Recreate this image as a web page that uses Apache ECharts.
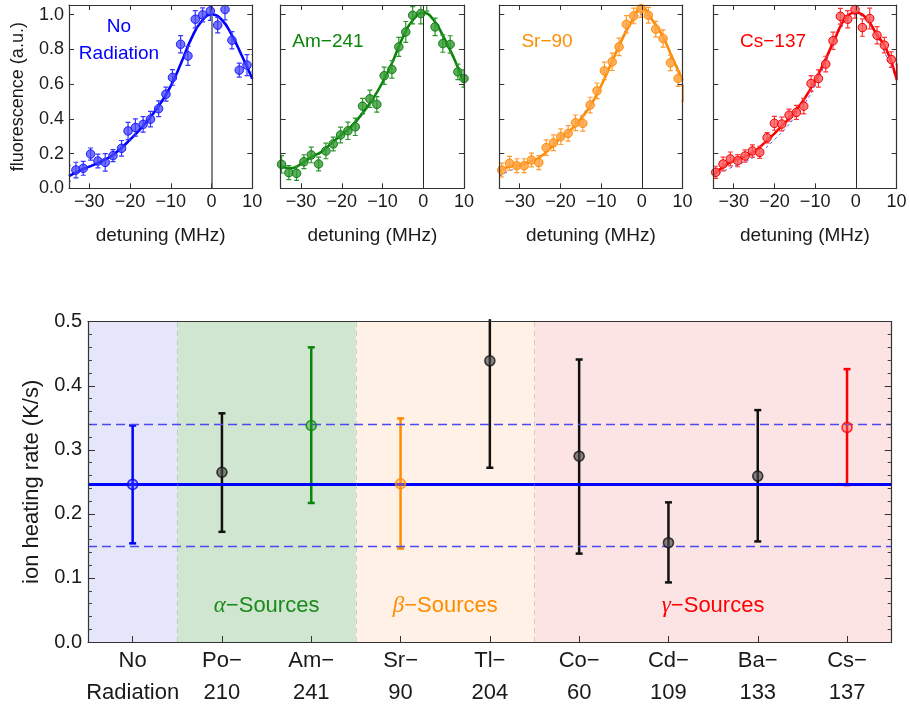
<!DOCTYPE html>
<html><head><meta charset="utf-8">
<script src="https://cdn.jsdelivr.net/npm/echarts@6/dist/echarts.min.js"></script>
<style>html,body{margin:0;padding:0;background:#fff}#c{width:910px;height:709px}</style>
</head><body><div id="c"></div><script>
// ---------- top panels: fluorescence vs detuning ----------
const detTicks = [-30, -20, -10, 0, 10];
const fluorTicks = [0, 0.2, 0.4, 0.6, 0.8, 1.0];
const panelNames = ['No\nRadiation', 'Am\u2212241', 'Sr\u221290', 'Cs\u2212137'];

const noRadX = [-35.2,-33.3,-31.5,-29.7,-27.9,-26.1,-24.2,-22.1,-20.5,-18.7,-16.8,-15.0,-13.0,-11.2,-9.6,-7.6,-5.8,-4.0,-2.2,-0.3,1.5,3.3,5.0,6.8,8.7,10.4];
const noRadY = [0.086,0.105,0.115,0.197,0.157,0.149,0.188,0.23,0.33,0.35,0.368,0.398,0.458,0.542,0.638,0.829,0.762,0.973,0.998,1.021,0.939,1.029,0.852,0.68,0.709,0.72];
const noRadErr = [0.045,0.045,0.04,0.035,0.04,0.05,0.035,0.045,0.05,0.05,0.045,0.045,0.045,0.04,0.045,0.05,0.055,0.05,0.04,0.055,0.045,0.06,0.05,0.04,0.06,0.05];

const amX = [-34.8,-33.0,-31.1,-29.3,-27.5,-25.7,-23.9,-22.1,-20.3,-18.5,-16.7,-14.9,-13.1,-11.4,-9.6,-7.7,-6.0,-4.3,-2.6,-0.6,0.85,2.9,4.8,6.6,8.5,10.0];
const amY = [0.138,0.09,0.086,0.153,0.192,0.14,0.215,0.255,0.307,0.331,0.354,0.473,0.515,0.483,0.648,0.684,0.814,0.900,0.996,1.006,1.08,0.929,0.833,0.828,0.670,0.632];
const amErr = [0.05,0.04,0.04,0.04,0.045,0.04,0.045,0.04,0.045,0.05,0.05,0.045,0.05,0.045,0.05,0.05,0.055,0.06,0.05,0.06,0.06,0.05,0.05,0.05,0.045,0.05];

const srX = [-34.4,-32.5,-30.7,-28.9,-27.1,-25.3,-23.5,-21.7,-19.9,-18.1,-16.3,-14.5,-12.7,-11.0,-9.2,-7.3,-5.6,-3.8,-2.0,-0.2,1.6,3.4,5.2,7.0,8.9,10.3];
const srY = [0.105,0.144,0.130,0.130,0.163,0.148,0.234,0.262,0.297,0.316,0.377,0.374,0.479,0.561,0.676,0.728,0.814,0.944,0.992,1.034,0.996,0.916,0.862,0.722,0.632,0.546];
const srErr = [0.04,0.04,0.04,0.04,0.04,0.04,0.045,0.045,0.045,0.045,0.045,0.045,0.045,0.045,0.05,0.05,0.05,0.05,0.045,0.05,0.045,0.045,0.05,0.045,0.045,0.045];

const csX = [-34.4,-32.6,-30.8,-29.0,-27.2,-25.4,-23.6,-21.8,-20.0,-18.2,-16.4,-14.6,-12.8,-11.0,-9.2,-7.4,-5.6,-3.8,-2.0,-0.2,1.6,3.4,5.2,7.0,8.7,10.3];
const csY = [0.092,0.14,0.169,0.159,0.186,0.215,0.207,0.291,0.374,0.370,0.421,0.437,0.473,0.603,0.632,0.715,0.849,0.990,0.973,1.029,0.925,0.977,0.881,0.824,0.741,0.67];
const csErr = [0.035,0.04,0.04,0.035,0.035,0.035,0.035,0.03,0.04,0.04,0.035,0.04,0.045,0.045,0.05,0.045,0.05,0.045,0.05,0.05,0.05,0.06,0.05,0.045,0.045,0.045];

const fitX = [-35,-32.5,-30,-27.5,-25,-22.5,-20,-17.5,-15,-12.5,-10,-7.5,-5,-2.5,0,2.5,5,7.5,10];
const fitNoRad = [0.07,0.10,0.125,0.15,0.18,0.225,0.28,0.34,0.41,0.49,0.59,0.72,0.86,0.96,1.0,0.97,0.88,0.76,0.63];
const fitAm = [0.125,0.115,0.14,0.18,0.21,0.26,0.31,0.36,0.43,0.51,0.61,0.73,0.87,0.97,1.01,0.97,0.87,0.75,0.61];
const fitSr = [0.10,0.125,0.134,0.153,0.18,0.23,0.29,0.335,0.40,0.48,0.59,0.72,0.85,0.96,1.04,0.97,0.88,0.75,0.62];
const fitCs = [0.077,0.125,0.16,0.18,0.21,0.26,0.315,0.375,0.44,0.52,0.62,0.74,0.87,0.98,1.01,0.98,0.89,0.80,0.63];

// ---------- bottom panel: heating rate per source ----------
const sources = ['No\nRadiation','Po\u2212\n210','Am\u2212\n241','Sr\u2212\n90','Tl\u2212\n204','Co\u2212\n60','Cd\u2212\n109','Ba\u2212\n133','Cs\u2212\n137'];
const rate     = [0.246,0.265,0.338,0.247,0.439,0.290,0.155,0.259,0.335];
const rateLow  = [0.154,0.172,0.217,0.146,0.272,0.138,0.093,0.157,0.245];
const rateHigh = [0.338,0.357,0.460,0.349,0.504,0.441,0.218,0.362,0.426];
const meanRate = 0.246, meanLow = 0.154, meanHigh = 0.338;
const groupFrom = [-0.5, 0.5, 2.5, 4.5];
const groupTo   = [0.5, 2.5, 4.5, 8.5];
const groupGreek = ['', '\u03b1', '\u03b2', '\u03b3'];

// ---------- styles ----------
const FONT = '"Liberation Sans", Arial, sans-serif';
const panelColors = [
  {line:'#0000ff', fill:'rgba(70,70,255,0.75)', border:'#1a1aff', err:'#3535ff'},
  {line:'#0a850a', fill:'rgba(50,155,50,0.8)', border:'#137a13', err:'#2a962a'},
  {line:'#ff8c00', fill:'rgba(255,165,70,0.85)', border:'#ff8c00', err:'#ff9a30'},
  {line:'#ff0000', fill:'rgba(255,90,90,0.8)', border:'#ee0000', err:'#ff3535'}
];
const rateColors = ['#0000ff','#111111','#0a850a','#ff8c00','#111111','#111111','#111111','#111111','#ff0000'];
const rateFills = ['rgba(80,80,255,0.45)','rgba(70,70,70,0.8)','rgba(40,150,40,0.5)','rgba(255,160,60,0.6)','rgba(70,70,70,0.8)','rgba(70,70,70,0.8)','rgba(70,70,70,0.8)','rgba(70,70,70,0.8)','rgba(255,90,90,0.5)'];
const bandColors = ['#e6e6fb','#d0e6d0','#fff1e5','#fde4e4'];
const groupTextColors = ['#000','#1a8a1a','#ff8c00','#ff0000'];

const panelData = [
  {x:noRadX, y:noRadY, e:noRadErr, fit:fitNoRad},
  {x:amX, y:amY, e:amErr, fit:fitAm},
  {x:srX, y:srY, e:srErr, fit:fitSr},
  {x:csX, y:csY, e:csErr, fit:fitCs}
];
const gridLefts = [69, 280.7, 499.3, 713.3];
const titlePos = [[119,40.5],[328,42],[547,42],[773,42]];

function minusFmt(v){ return v < 0 ? '\u2212' + Math.abs(v) : String(v); }

function errRender(colorFn, lw, cap, yMaxClip) {
  return function(params, api) {
    const x = api.value(0), lo = api.value(2), hi = api.value(3);
    const pLo = api.coord([x, lo]), pHi = api.coord([x, hi]);
    const c = colorFn(params.dataIndex);
    const st = {stroke: c, lineWidth: lw};
    const ch = [
      {type:'line', shape:{x1:pLo[0], y1:pLo[1], x2:pHi[0], y2:pHi[1]}, style:st},
      {type:'line', shape:{x1:pLo[0]-cap, y1:pLo[1], x2:pLo[0]+cap, y2:pLo[1]}, style:st}
    ];
    if (yMaxClip === undefined || hi <= yMaxClip) {
      ch.push({type:'line', shape:{x1:pHi[0]-cap, y1:pHi[1], x2:pHi[0]+cap, y2:pHi[1]}, style:st});
    }
    return {type:'group', children: ch};
  };
}

const grids = [], xAxes = [], yAxes = [], series = [], graphics = [];
for (let i = 0; i < 4; i++) {
  grids.push({left: gridLefts[i], top: 5, width: 183.3, height: 183.3});
}
grids.push({left: 88, top: 321.7, width: 803.7, height: 320.6});

const axisLineStyle = {color:'#333', width:1.2};
// xAxis 0-3: top panels bottom axes
for (let i = 0; i < 4; i++) {
  xAxes.push({
    gridIndex: i, type: 'value', min: -35, max: 10, position: 'bottom', z: 10,
    axisLine: {show: true, onZero: false, lineStyle: axisLineStyle},
    axisTick: {show: true, inside: true, length: 5, customValues: detTicks, lineStyle:{color:'#333'}},
    axisLabel: {show: true, customValues: detTicks, formatter: minusFmt, fontSize: 18, fontFamily: FONT, color: '#1a1a1a', margin: 5},
    splitLine: {show: false},
    name: 'detuning (MHz)', nameLocation: 'middle', nameGap: 38,
    nameTextStyle: {fontSize: 19, fontFamily: FONT, color: '#1a1a1a'}
  });
}
// xAxis 4: bottom category
xAxes.push({
  gridIndex: 4, type: 'category', data: sources, position: 'bottom', z: 10,
  axisLine: {show: true, onZero: false, lineStyle: axisLineStyle},
  axisTick: {show: true, inside: true, alignWithLabel: true, length: 6, lineStyle:{color:'#333'}},
  axisLabel: {fontSize: 22, fontFamily: FONT, color: '#1a1a1a', lineHeight: 32, margin: 3, interval: 0},
  splitLine: {show: false}
});
// xAxis 5: bottom hidden value axis (top frame)
xAxes.push({
  gridIndex: 4, type: 'value', min: -0.5, max: 8.5, position: 'top', z: 10,
  axisLine: {show: true, onZero: false, lineStyle: axisLineStyle},
  axisTick: {show: false}, axisLabel: {show: false}, splitLine: {show: false}
});
// xAxis 6-9: top frames of top panels
for (let i = 0; i < 4; i++) {
  xAxes.push({
    gridIndex: i, type: 'value', min: -35, max: 10, position: 'top', z: 10,
    axisLine: {show: true, onZero: false, lineStyle: axisLineStyle},
    axisTick: {show: true, inside: true, length: 5, customValues: detTicks, lineStyle:{color:'#333'}},
    axisLabel: {show: false}, splitLine: {show: false}
  });
}
// yAxis 0-3 left, 4-7 right of top panels
for (let i = 0; i < 4; i++) {
  yAxes.push({
    gridIndex: i, type: 'value', min: 0, max: 1.055, position: 'left', z: 10,
    axisLine: {show: true, onZero: false, lineStyle: axisLineStyle},
    axisTick: {show: true, inside: true, length: 5, customValues: fluorTicks, lineStyle:{color:'#333'}},
    axisLabel: {show: i === 0, customValues: fluorTicks, formatter: v => v.toFixed(1), fontSize: 18, fontFamily: FONT, color: '#1a1a1a', margin: 5},
    splitLine: {show: false},
    name: i === 0 ? 'fluorescence (a.u.)' : '', nameLocation: 'middle', nameGap: 42, nameRotate: 90,
    nameTextStyle: {fontSize: 18, fontFamily: FONT, color: '#1a1a1a'}
  });
}
for (let i = 0; i < 4; i++) {
  yAxes.push({
    gridIndex: i, type: 'value', min: 0, max: 1.055, position: 'right', z: 10,
    axisLine: {show: true, onZero: false, lineStyle: axisLineStyle},
    axisTick: {show: true, inside: true, length: 5, customValues: fluorTicks, lineStyle:{color:'#333'}},
    axisLabel: {show: false}, splitLine: {show: false}
  });
}
// yAxis 8 left, 9 right bottom chart
yAxes.push({
  gridIndex: 4, type: 'value', min: 0, max: 0.5, interval: 0.1, position: 'left', z: 10,
  axisLine: {show: true, onZero: false, lineStyle: axisLineStyle},
  axisTick: {show: true, inside: true, length: 7, lineStyle:{color:'#333'}},
  minorTick: {show: true, splitNumber: 5, length: 4, lineStyle:{color:'#444'}},
  axisLabel: {formatter: v => v.toFixed(1), fontSize: 20, fontFamily: FONT, color: '#1a1a1a', margin: 6},
  splitLine: {show: false},
  name: 'ion heating rate (K/s)', nameLocation: 'middle', nameGap: 45, nameRotate: 90,
  nameTextStyle: {fontSize: 22, fontFamily: FONT, color: '#1a1a1a'}
});
yAxes.push({
  gridIndex: 4, type: 'value', min: 0, max: 0.5, interval: 0.1, position: 'right', z: 10,
  axisLine: {show: true, onZero: false, lineStyle: axisLineStyle},
  axisTick: {show: true, inside: true, length: 7, lineStyle:{color:'#333'}},
  minorTick: {show: true, splitNumber: 5, length: 4, lineStyle:{color:'#444'}},
  axisLabel: {show: false}, splitLine: {show: false}
});

// ---------- top panel series ----------
for (let i = 0; i < 4; i++) {
  const d = panelData[i], c = panelColors[i];
  if (i >= 2) {
    series.push({
      type: 'line', xAxisIndex: i, yAxisIndex: i, smooth: true, symbol: 'none', z: 2,
      data: fitX.map((x, k) => [x, fitNoRad[k]]),
      lineStyle: {color: '#2020ff', width: 1, type: [3, 3], opacity: 0.8}, silent: true
    });
  }
  series.push({
    type: 'line', xAxisIndex: i, yAxisIndex: i, smooth: true, symbol: 'none', z: 3,
    data: fitX.map((x, k) => [x, d.fit[k]]),
    lineStyle: {color: c.line, width: 2.6}, silent: true,
    markLine: {
      symbol: 'none', silent: true, label: {show: false},
      lineStyle: {color: i === 0 ? '#777' : '#222', width: i === 0 ? 1.8 : 1, type: 'solid'},
      data: [{xAxis: 0}]
    }
  });
  series.push({
    type: 'custom', xAxisIndex: i, yAxisIndex: i, z: 4, clip: true, silent: true,
    data: d.x.map((x, k) => [x, d.y[k], d.y[k] - d.e[k], d.y[k] + d.e[k]]),
    renderItem: errRender(() => c.err, 1.2, 2.5)
  });
  series.push({
    type: 'scatter', xAxisIndex: i, yAxisIndex: i, z: 5, clip: true, silent: true,
    data: d.x.map((x, k) => [x, d.y[k]]),
    symbol: 'circle', symbolSize: 8.5,
    itemStyle: {color: c.fill, borderColor: c.border, borderWidth: 1, opacity: 1}
  });
  graphics.push({
    type: 'text', x: titlePos[i][0], y: titlePos[i][1], z: 20,
    style: {text: panelNames[i], fill: c.line, font: '19px ' + FONT, align: 'center', verticalAlign: 'middle', lineHeight: 27}
  });
}

// ---------- bottom chart series ----------
series.push({
  type: 'line', xAxisIndex: 5, yAxisIndex: 8, z: 1, silent: true,
  data: [[-5, -1]], symbol: 'none', lineStyle: {opacity: 0},
  markArea: {
    silent: true,
    data: groupFrom.map((f, g) => [
      {xAxis: f, itemStyle: {color: bandColors[g]},
       label: {show: g > 0, position: 'insideBottom', distance: 25,
               formatter: '{g|' + groupGreek[g] + '}{t|\u2212Sources}',
               rich: {
                 g: {fontFamily: '"Liberation Serif", serif', fontStyle: 'italic', fontSize: 23, color: groupTextColors[g]},
                 t: {fontFamily: FONT, fontSize: 22, color: groupTextColors[g]}
               }}},
      {xAxis: groupTo[g]}
    ])
  },
  markLine: {
    symbol: 'none', silent: true, label: {show: false},
    lineStyle: {color: 'rgba(160,160,160,0.45)', width: 1, type: [5, 4]},
    data: groupTo.slice(0, 3).map(v => ({xAxis: v}))
  }
});
series.push({
  type: 'custom', xAxisIndex: 4, yAxisIndex: 8, z: 3, clip: false, silent: true,
  data: rate.map((r, k) => [k, r, rateLow[k], rateHigh[k]]),
  renderItem: errRender(k => rateColors[k], 2.5, 3.5, 0.5)
});
series.push({
  type: 'line', xAxisIndex: 5, yAxisIndex: 8, z: 4, silent: true,
  data: [[-0.5, meanRate], [8.5, meanRate]], symbol: 'none',
  lineStyle: {color: '#0000ff', width: 3},
  markLine: {
    symbol: 'none', silent: true, label: {show: false},
    lineStyle: {color: '#4a4af0', width: 1.3, type: [9, 5]},
    data: [{yAxis: meanHigh}, {yAxis: meanLow}]
  }
});
series.push({
  type: 'scatter', xAxisIndex: 4, yAxisIndex: 8, z: 5, silent: true,
  data: rate.map((r, k) => ({value: [k, r], itemStyle: {color: rateFills[k], borderColor: rateColors[k], borderWidth: 1.6}})),
  symbol: 'circle', symbolSize: 10
});

const chart = echarts.init(document.getElementById('c'), null, {renderer: 'canvas'});
chart.setOption({
  animation: false,
  backgroundColor: '#ffffff',
  grid: grids, xAxis: xAxes, yAxis: yAxes, series: series, graphic: graphics
});
</script></body></html>
